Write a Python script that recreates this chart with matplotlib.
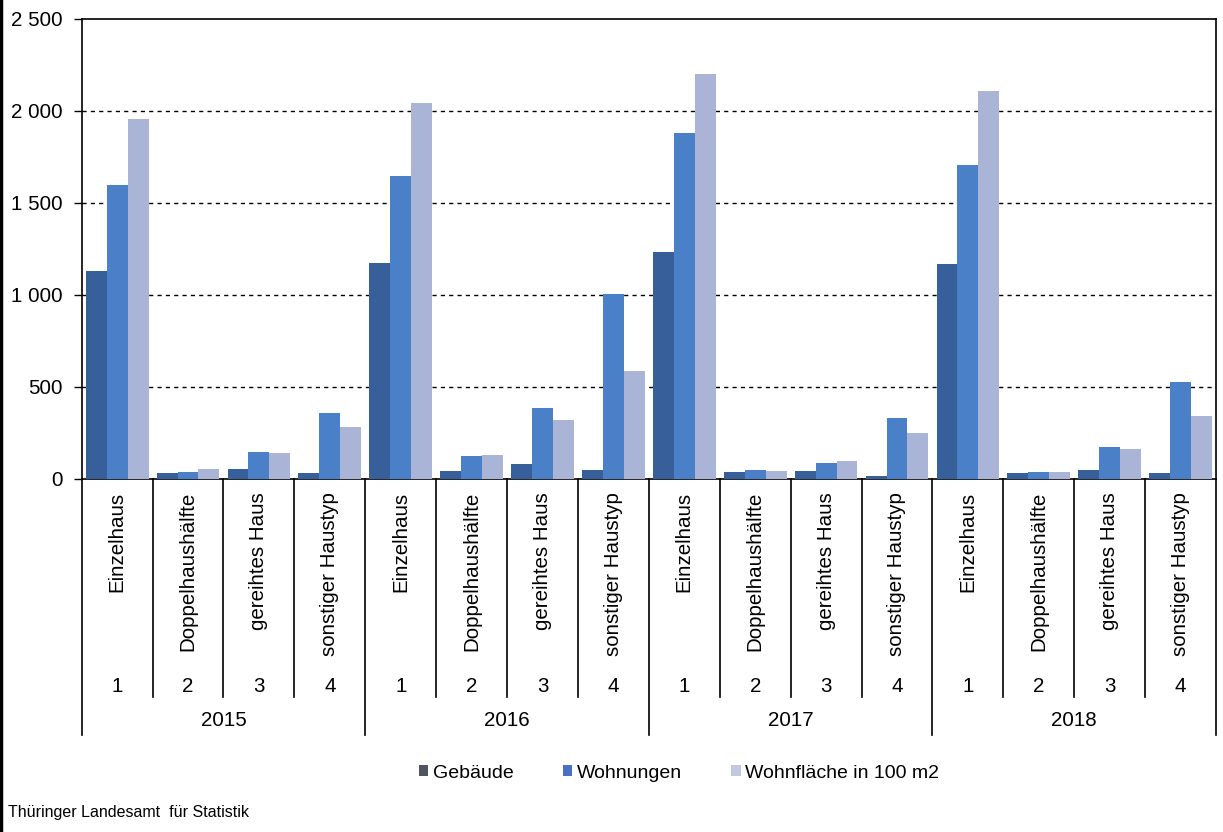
import matplotlib
matplotlib.use("Agg")
import matplotlib.pyplot as plt
from matplotlib.lines import Line2D
from matplotlib.patches import Patch
import numpy as np

plt.rcParams['font.family'] = ['Liberation Sans', 'DejaVu Sans']

years = ["2015", "2016", "2017", "2018"]
house_types = ["Einzelhaus", "Doppelhaushälfte", "gereihtes Haus", "sonstiger Haustyp"]
type_numbers = ["1", "2", "3", "4"]

gebaeude = [1132, 31, 54, 31,
            1175, 41, 83, 47,
            1233, 36, 43, 18,
            1170, 31, 49, 31]
wohnungen = [1600, 36, 145, 357,
             1648, 124, 384, 1003,
             1882, 49, 85, 330,
             1706, 40, 176, 529]
wohnflaeche = [1955, 54, 139, 284,
               2042, 130, 322, 587,
               2200, 45, 100, 248,
               2107, 40, 161, 342]

series_names = ["Gebäude", "Wohnungen", "Wohnfläche in 100 m2"]
colors = ["#37609a", "#4a80c8", "#a9b4d6"]
legend_colors = ["#50555f", "#4a72c0", "#c3c8e2"]

FS = 14.8
W, H = 1223, 832
fig = plt.figure(figsize=(W / 100, H / 100), dpi=100)
left, right, top, bottom = 81.7, 1216, 19, 479
ax = fig.add_axes([left / W, 1 - bottom / H, (right - left) / W, (bottom - top) / H])

n = len(gebaeude)
x = np.arange(n)
bw = 0.295
for i, (vals, c) in enumerate(zip([gebaeude, wohnungen, wohnflaeche], colors)):
    ax.bar(x + (i - 1) * bw, vals, width=bw, color=c, zorder=3, linewidth=0)

ax.set_xlim(-0.5, n - 0.5)
ax.set_ylim(0, 2500)
yt = [0, 500, 1000, 1500, 2000, 2500]
ax.set_yticks(yt)
ax.set_yticklabels([f"{v:,}".replace(",", " ") for v in yt], fontsize=FS)
ax.tick_params(axis='y', length=6, width=1, pad=8, direction='out')
ax.set_xticks([])
for v in [500, 1000, 1500, 2000]:
    ax.axhline(v, color='black', linestyle=(0, (3, 3)), linewidth=1, zorder=1)
for s in ax.spines.values():
    s.set_color('black')
    s.set_linewidth(1.2)

tr = ax.get_xaxis_transform()
ph = bottom - top
def yfrac(py):
    return (bottom - py) / ph

# category labels
for k in range(n):
    ax.text(k, yfrac(492), house_types[k % 4], rotation=90, ha='center', va='top',
            fontsize=FS, transform=tr)
    ax.text(k, yfrac(686), type_numbers[k % 4], ha='center', va='center',
            fontsize=FS, transform=tr)
for j, yr in enumerate(years):
    ax.text(j * 4 + 1.5, yfrac(721), yr, ha='center', va='center', fontsize=FS, transform=tr)

# dividers
for k in range(n + 1):
    xb = k - 0.5
    yend = yfrac(735) if k % 4 == 0 else yfrac(697)
    ax.add_line(Line2D([xb, xb], [0, yend], color='black', linewidth=1.2,
                       transform=tr, clip_on=False))

handles = [Patch(facecolor=c, edgecolor='none') for c in legend_colors]
fig.legend(handles, series_names, loc='center', bbox_to_anchor=(679 / W, 1 - 773 / H),
           ncol=3, frameon=False, fontsize=14, handlelength=0.5, handleheight=0.5,
           handletextpad=0.25, columnspacing=2.5)

fig.text(8 / W, 1 - 813 / H, "Thüringer Landesamt  für Statistik", fontsize=11.5,
         ha='left', va='center')

fig.add_artist(Line2D([1.2 / W, 1.2 / W], [0, 1], color='black', linewidth=2.5,
                      transform=fig.transFigure))

fig.savefig("out.png", dpi=100)
